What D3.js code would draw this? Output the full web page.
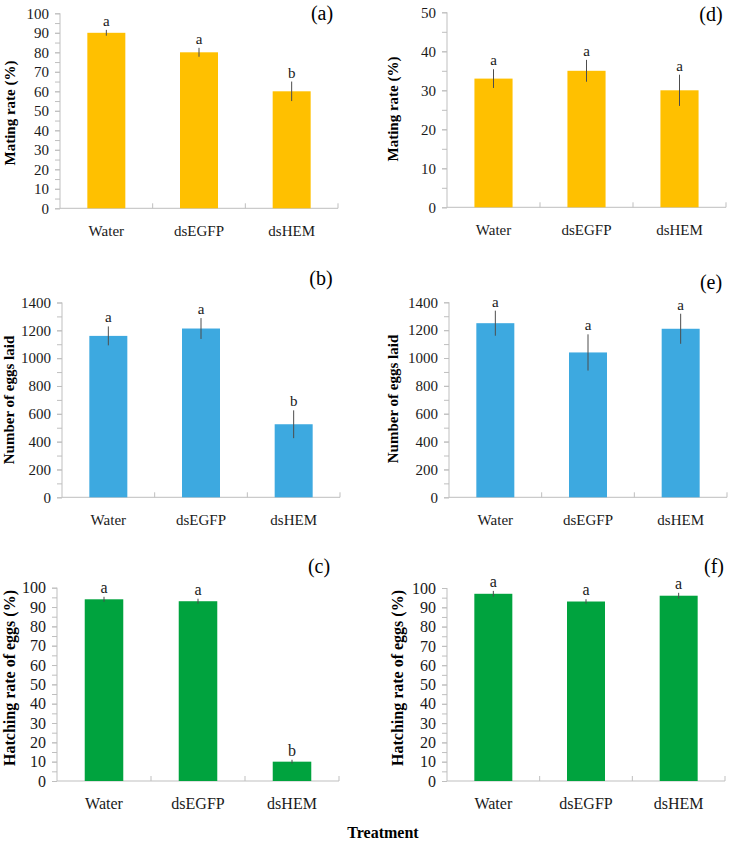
<!DOCTYPE html>
<html><head><meta charset="utf-8">
<script src="https://cdn.jsdelivr.net/npm/d3@7"></script>
<style>
body{margin:0;background:#fff;}
svg text{font-family:"Liberation Serif","Times New Roman",serif !important;}
</style></head>
<body>
<svg id="chart" width="729" height="842"></svg>
<script>
// ---- data ----
const categories = ["Water", "dsEGFP", "dsHEM"];

const matingRateA = [90, 80, 60];
const matingErrA = [1.5, 2.3, 5];
const lettersA = ["a", "a", "b"];

const eggsLaidB = [1160, 1213, 525];
const eggsErrB = [68, 75, 100];
const lettersB = ["a", "a", "b"];

const hatchRateC = [94, 93, 10];
const hatchErrC = [1.3, 1.3, 1];
const lettersC = ["a", "a", "b"];

const matingRateD = [33, 35, 30];
const matingErrD = [2.4, 2.8, 4];
const lettersD = ["a", "a", "a"];

const eggsLaidE = [1250, 1040, 1210];
const eggsErrE = [90, 130, 108];
const lettersE = ["a", "a", "a"];

const hatchRateF = [97, 93, 96];
const hatchErrF = [1.5, 1.2, 1.5];
const lettersF = ["a", "a", "a"];

const tickLabelsMating = [0,10,20,30,40,50,60,70,80,90,100];
const tickLabelsMatingD = [0,10,20,30,40,50];
const tickLabelsEggs = [0,200,400,600,800,1000,1200,1400];
const tickLabelsHatch = [0,10,20,30,40,50,60,70,80,90,100];

const colors = {mating:"#FFC000", eggs:"#3DA9E0", hatch:"#00A33E"};

// ---- panel layout ----
const panels = [
  {label:"(a)", vals:matingRateA, err:matingErrA, letters:lettersA, ticks:tickLabelsMating, max:100, minor:5,
   color:colors.mating, title:"Mating rate (%)", x0:60, x1:338, y0:208.3, y1:13.3, tx:10, ty:113, tfs:15, lx:322, ly:20, fs:15},
  {label:"(b)", vals:eggsLaidB, err:eggsErrB, letters:lettersB, ticks:tickLabelsEggs, max:1400, minor:100,
   color:colors.eggs, title:"Number of eggs laid", x0:62, x1:340, y0:497.3, y1:302.5, tx:9, ty:400, tfs:15, lx:321, ly:285, fs:15},
  {label:"(c)", vals:hatchRateC, err:hatchErrC, letters:lettersC, ticks:tickLabelsHatch, max:100, minor:5,
   color:colors.hatch, title:"Hatching rate of eggs (%)", x0:57, x1:339, y0:781, y1:587.7, tx:9, ty:678, tfs:16, lx:319, ly:573, fs:16},
  {label:"(d)", vals:matingRateD, err:matingErrD, letters:lettersD, ticks:tickLabelsMatingD, max:50, minor:5,
   color:colors.mating, title:"Mating rate (%)", x0:447, x1:726, y0:207.3, y1:12.3, tx:393, ty:109, tfs:15, lx:711, ly:21, fs:15},
  {label:"(e)", vals:eggsLaidE, err:eggsErrE, letters:lettersE, ticks:tickLabelsEggs, max:1400, minor:100,
   color:colors.eggs, title:"Number of eggs laid", x0:449, x1:727, y0:497.3, y1:302.3, tx:393, ty:399, tfs:15, lx:711, ly:289, fs:15},
  {label:"(f)", vals:hatchRateF, err:hatchErrF, letters:lettersF, ticks:tickLabelsHatch, max:100, minor:5,
   color:colors.hatch, title:"Hatching rate of eggs (%)", x0:447, x1:725, y0:781, y1:588, tx:397, ty:678, tfs:16, lx:714, ly:573, fs:16}
];

const svg = d3.select("#chart");
const axisColor = "#BFBFBF";
const serif = "Liberation Serif, Times New Roman, serif";

panels.forEach(p => {
  const g = svg.append("g");
  const x = d3.scaleBand().domain(categories).range([p.x0, p.x1]).padding(0);
  const y = d3.scaleLinear().domain([0, p.max]).range([p.y0, p.y1]);
  const bw = x.bandwidth() * 0.41;

  // minor ticks
  const minorVals = d3.range(0, p.max + 0.001, p.minor);
  const minorAxis = d3.axisLeft(y).tickValues(minorVals).tickSize(5).tickFormat("");
  const ma = g.append("g").attr("transform", `translate(${p.x0},0)`).call(minorAxis);
  ma.select(".domain").remove();
  ma.selectAll("line").attr("stroke", axisColor);

  // major axis
  const yAxis = d3.axisLeft(y).tickValues(p.ticks).tickSize(5).tickPadding(6).tickFormat(d3.format("d"));
  const ya = g.append("g").attr("transform", `translate(${p.x0},0)`).call(yAxis)
    .attr("font-family", serif).attr("font-size", p.fs);
  ya.select(".domain").attr("stroke", axisColor).attr("d", `M0,${p.y0}V${p.y1}`);
  ya.selectAll("line").attr("stroke", axisColor);
  ya.selectAll("text").attr("fill", "#1a1a1a");

  // x axis
  const xAxis = d3.axisBottom(x).tickSize(0).tickPadding(17);
  const xa = g.append("g").attr("transform", `translate(0,${p.y0})`).call(xAxis)
    .attr("font-family", serif).attr("font-size", p.fs);
  xa.select(".domain").attr("stroke", axisColor).attr("d", `M${p.x0},0H${p.x1}`);
  xa.selectAll("text").attr("fill", "#1a1a1a");
  // category divider ticks (inward)
  const bounds = categories.map(c => x(c)).concat([p.x1]);
  g.selectAll(".div").data(bounds.slice(1)).enter().append("line")
    .attr("x1", d => d).attr("x2", d => d)
    .attr("y1", p.y0).attr("y2", p.y0 - 5)
    .attr("stroke", axisColor);

  // bars
  g.selectAll(".bar").data(p.vals).enter().append("rect")
    .attr("x", (d, i) => x(categories[i]) + x.bandwidth() / 2 - bw / 2)
    .attr("width", bw)
    .attr("y", d => y(d))
    .attr("height", d => p.y0 - y(d))
    .attr("fill", p.color);

  // error bars
  g.selectAll(".err").data(p.vals).enter().append("line")
    .attr("x1", (d, i) => x(categories[i]) + x.bandwidth() / 2)
    .attr("x2", (d, i) => x(categories[i]) + x.bandwidth() / 2)
    .attr("y1", (d, i) => y(d - p.err[i]))
    .attr("y2", (d, i) => y(d + p.err[i]))
    .attr("stroke", "#4d4d4d").attr("stroke-width", 1);

  // significance letters
  g.selectAll(".let").data(p.letters).enter().append("text")
    .attr("x", (d, i) => x(categories[i]) + x.bandwidth() / 2)
    .attr("y", (d, i) => y(p.vals[i] + p.err[i]) - 4)
    .attr("text-anchor", "middle")
    .attr("font-size", p.fs)
    .attr("fill", "#1a1a1a")
    .text(d => d);

  // y title
  g.append("text")
    .attr("transform", `translate(${p.tx},${p.ty}) rotate(-90)`)
    .attr("text-anchor", "middle")
    .attr("dominant-baseline", "central")
    .attr("font-size", p.tfs)
    .attr("font-weight", "bold")
    .attr("fill", "#000")
    .text(p.title);

  // panel label
  g.append("text")
    .attr("x", p.lx).attr("y", p.ly)
    .attr("text-anchor", "middle")
    .attr("font-size", 20)
    .attr("fill", "#000")
    .text(p.label);
});

svg.append("text")
  .attr("x", 383).attr("y", 838)
  .attr("text-anchor", "middle")
  .attr("font-size", 16)
  .attr("font-weight", "bold")
  .attr("fill", "#000")
  .text("Treatment");
</script>
</body></html>
